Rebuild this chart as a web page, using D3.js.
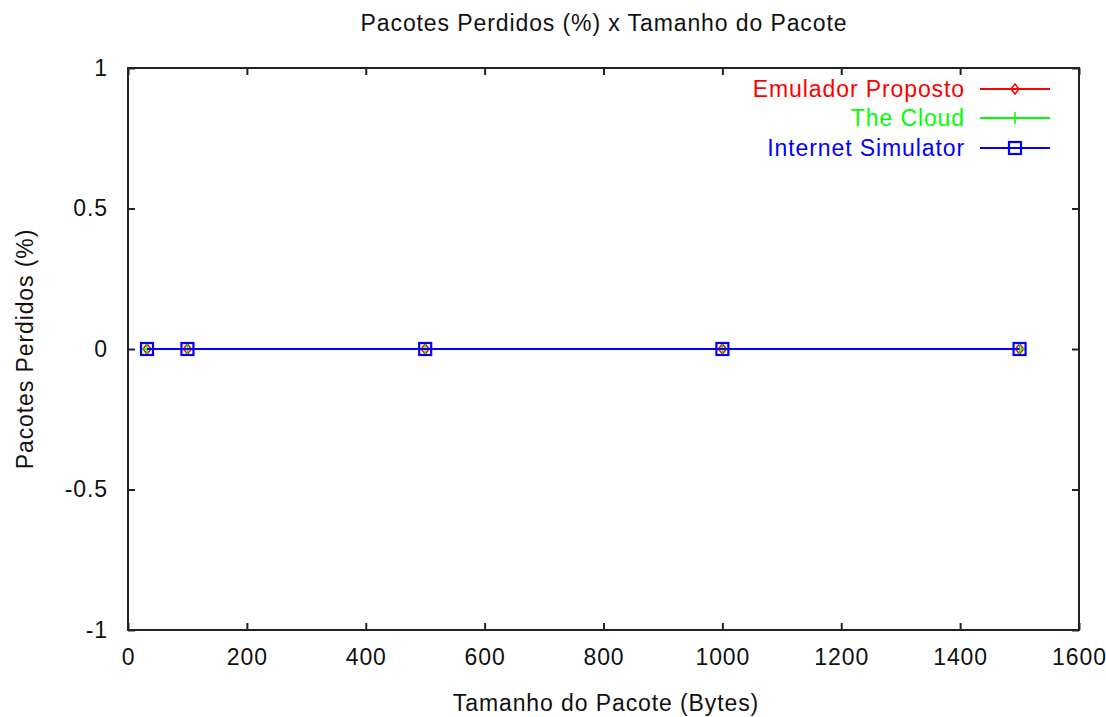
<!DOCTYPE html>
<html>
<head>
<meta charset="utf-8">
<script src="https://cdn.jsdelivr.net/npm/d3@7"></script>
<style>
 body { margin: 0; background: #fff; }
 text { font-family: "Liberation Sans", Arial, sans-serif; letter-spacing: 0.9px; }
</style>
</head>
<body>
<svg id="graph"></svg>
<script>
// dados
var tamanhos = [32, 100, 500, 1000, 1500];
var emulador = [0, 0, 0, 0, 0];
var theCloud = [0, 0, 0, 0, 0];
var internetSim = [0, 0, 0, 0, 0];
var xTicks = [0, 200, 400, 600, 800, 1000, 1200, 1400, 1600];
var yTicks = [-1, -0.5, 0, 0.5, 1];
var nomes = ["Emulador Proposto", "The Cloud", "Internet Simulator"];
var cores = ["#ff0000", "#00ff00", "#0000ff"];

let width = 1106, height = 717;
let mLeft = 128, mRight = 1079, mTop = 68, mBottom = 630;

let svg = d3.select("#graph").attr("width", width).attr("height", height);

let scaleX = d3.scaleLinear().domain([0, 1600]).range([mLeft, mRight]);
let scaleY = d3.scaleLinear().domain([-1, 1]).range([mBottom, mTop]);

let fs = "23px";

// eixos com ticks para dentro
svg.append("g")
 .attr("transform", `translate(0, ${mBottom})`)
 .call(d3.axisBottom(scaleX).tickValues(xTicks).tickSize(-7).tickPadding(19).tickFormat(d3.format("d")))
 .call(g => g.select(".domain").remove())
 .selectAll("text").style("font-size", fs).attr("fill", "#111");

svg.append("g")
 .attr("transform", `translate(0, ${mTop})`)
 .call(d3.axisTop(scaleX).tickValues(xTicks).tickSize(-7).tickFormat(""))
 .call(g => g.select(".domain").remove());

svg.append("g")
 .attr("transform", `translate(${mLeft}, 0)`)
 .call(d3.axisLeft(scaleY).tickValues(yTicks).tickSize(-7).tickPadding(20).tickFormat(d => d))
 .call(g => g.select(".domain").remove())
 .selectAll("text").style("font-size", fs).attr("fill", "#111");

svg.append("g")
 .attr("transform", `translate(${mRight}, 0)`)
 .call(d3.axisRight(scaleY).tickValues(yTicks).tickSize(-7).tickFormat(""))
 .call(g => g.select(".domain").remove());

svg.selectAll(".tick line").attr("stroke", "#222").attr("stroke-width", 2);

svg.append("rect")
 .attr("x", mLeft).attr("y", mTop)
 .attr("width", mRight - mLeft).attr("height", mBottom - mTop)
 .attr("fill", "none").attr("stroke", "#222").attr("stroke-width", 2);

// títulos
svg.append("text")
 .attr("x", 604).attr("y", 31)
 .attr("text-anchor", "middle").style("font-size", fs).attr("fill", "#111")
 .text("Pacotes Perdidos (%) x Tamanho do Pacote");

svg.append("text")
 .attr("x", 606).attr("y", 711)
 .attr("text-anchor", "middle").style("font-size", fs).attr("fill", "#111")
 .text("Tamanho do Pacote (Bytes)");

svg.append("text")
 .attr("transform", `translate(33, ${(mTop + mBottom) / 2}) rotate(-90)`)
 .attr("text-anchor", "middle").style("font-size", fs).attr("fill", "#111")
 .text("Pacotes Perdidos (%)");

// séries
let series = [emulador, theCloud, internetSim];
let line = d3.line().x((d, i) => scaleX(tamanhos[i])).y(d => scaleY(d));

function marker(g, k, x, y) {
 if (k == 0) {
 g.append("path").attr("d", `M${x},${y - 5}L${x + 4},${y}L${x},${y + 5}L${x - 4},${y}Z`)
 .attr("fill", "none").attr("stroke", cores[0]).attr("stroke-width", 1.5);
 } else if (k == 1) {
 g.append("path").attr("d", `M${x - 6},${y}H${x + 6}M${x},${y - 6}V${y + 6}`)
 .attr("stroke", cores[1]).attr("stroke-width", 1.5);
 } else {
 g.append("rect").attr("x", x - 6).attr("y", y - 6).attr("width", 12).attr("height", 12)
 .attr("fill", "none").attr("stroke", cores[2]).attr("stroke-width", 2.2);
 }
}

series.forEach(function(s, k) {
 svg.append("path").datum(s).attr("d", line)
 .attr("fill", "none").attr("stroke", cores[k]).attr("stroke-width", 2);
 let g = svg.append("g");
 s.forEach(function(v, i) { marker(g, k, scaleX(tamanhos[i]), scaleY(v)); });
});

// legenda
let legY = [89, 118, 148];
nomes.forEach(function(n, k) {
 svg.append("text")
 .attr("x", 965).attr("y", legY[k]).attr("dy", "0.35em")
 .attr("text-anchor", "end").style("font-size", fs).attr("fill", cores[k])
 .text(n);
 svg.append("line")
 .attr("x1", 980).attr("x2", 1050).attr("y1", legY[k]).attr("y2", legY[k])
 .attr("stroke", cores[k]).attr("stroke-width", 2);
 marker(svg, k, 1015, legY[k]);
});
</script>
</body>
</html>
